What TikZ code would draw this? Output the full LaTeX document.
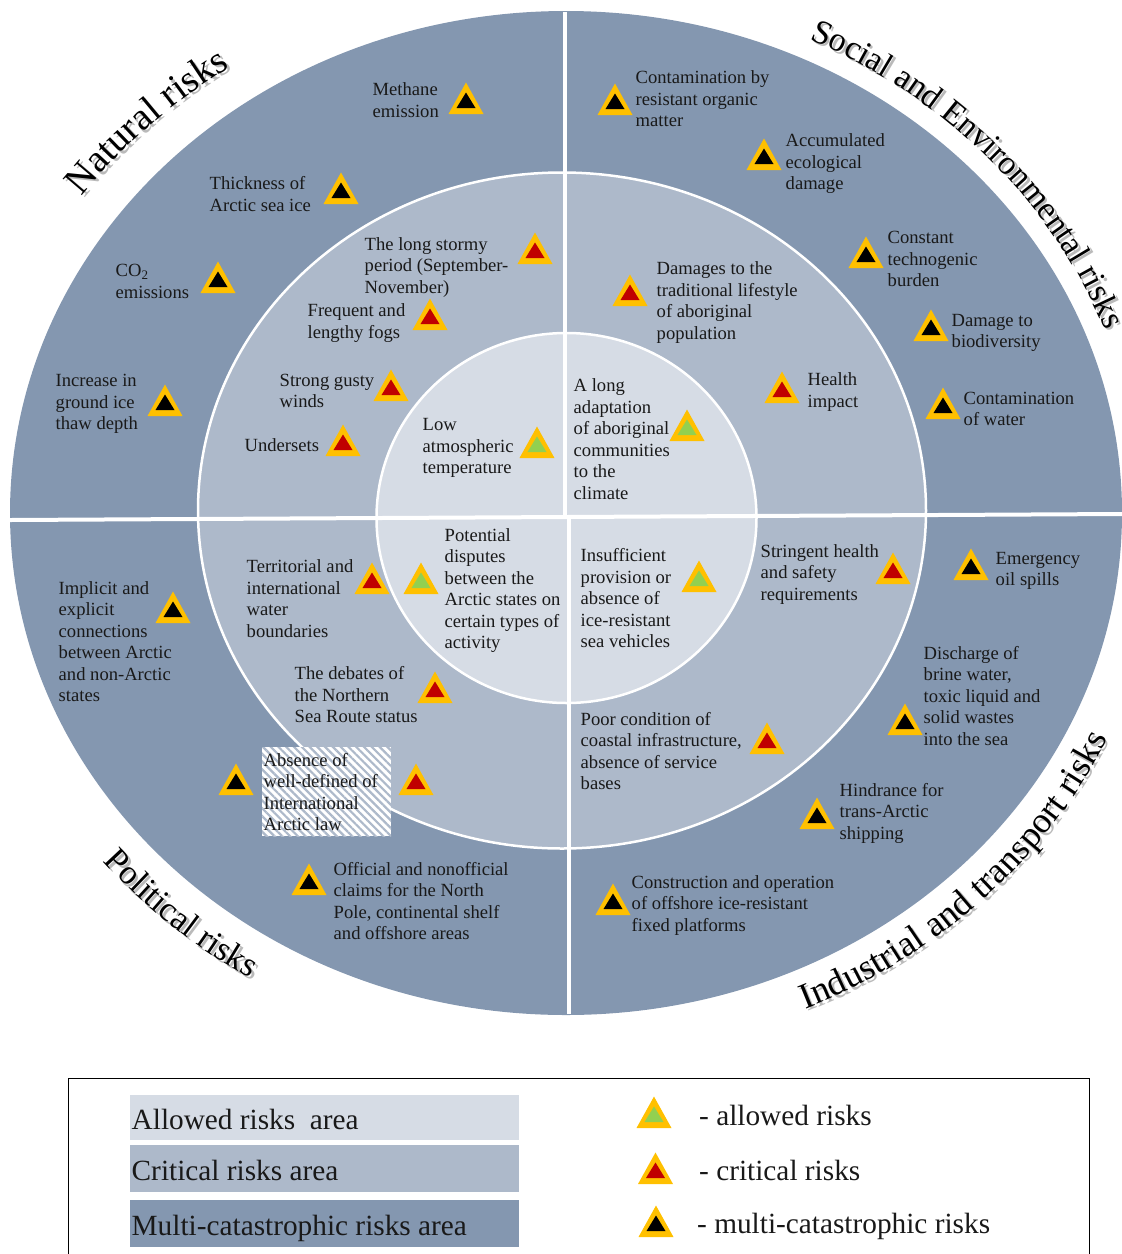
\documentclass[tikz,border=0pt]{standalone}
\usepackage{fontspec}
\setmainfont{Liberation Serif}
\usetikzlibrary{decorations.text,patterns.meta}
\definecolor{outerblue}{HTML}{8497B0}
\definecolor{midblue}{HTML}{ADB9CA}
\definecolor{innerblue}{HTML}{D6DCE5}
\definecolor{riskedge}{HTML}{FFC000}
\definecolor{riskred}{HTML}{C00000}
\definecolor{riskgreen}{HTML}{92D050}
\tikzset{
  zone/.style={draw=white,line width=2.5pt},
  divider/.style={draw=white,line width=4pt},
  risktext/.style={anchor=west,align=left,inner sep=0pt,text=black!90,xshift=-0.5pt,
    font=\fontsize{18.6}{21.5}\selectfont},
  legendtext/.style={anchor=west,inner sep=0pt,text=black!90,
    font=\fontsize{29.3}{32}\selectfont}
}
\newcommand{\riskmark}[3]{%
  \fill[riskedge] (#1-17.5,#2) -- (#1,#2-31.5) -- (#1+17.5,#2) -- cycle;
  \fill[#3] (#1-9.5,#2-6) -- (#1,#2-21.5) -- (#1+9.5,#2-6) -- cycle;}
\newcommand{\curvelabel}[5]{%
  \path[decorate,decoration={text along path,text={|\color{black!27}\fontsize{#5}{#5}\selectfont|#4}}]
    plot[domain=#3,samples=50] ({2.5+566+#1*cos(\x)},{2.5+515-#2*sin(\x)});
  \path[decorate,decoration={text along path,text={|\fontsize{#5}{#5}\selectfont|#4}}]
    plot[domain=#3,samples=50] ({566+#1*cos(\x)},{515-#2*sin(\x)});}
\begin{document}
\begin{tikzpicture}[x=1pt,y=-1pt]
  \useasboundingbox (0,0) rectangle (1122,1254);
  % zones
  \fill[outerblue] (566,513) ellipse [x radius=556pt,y radius=502pt];
  \filldraw[fill=midblue,zone] (562,510.5) ellipse [x radius=364pt,y radius=338pt];
  \filldraw[fill=innerblue,zone] (566.5,518) ellipse [x radius=190pt,y radius=185pt];
  \coordinate (top) at (565,12);
  \coordinate (mid) at (565,518);
  \coordinate (midb) at (569,518);
  \coordinate (bottom) at (569,1014);
  \coordinate (west) at (10,520);
  \coordinate (east) at (1122,514);
  \draw[divider] (top) -- (mid);
  \draw[divider] (midb) -- (bottom);
  \draw[divider] (west) -- (east);
  % curved titles
  \curvelabel{600}{540}{143.8:115}{Natural risks}{38.5}
  \curvelabel{576}{525}{65:12}{Social and Environmental risks}{34}
  \curvelabel{600}{545}{219.5:250}{Political risks}{34.5}
  \curvelabel{595}{540}{-66.3:-15}{Industrial and transport risks}{36.2}
  % striped box
  \fill[white] (262,747) rectangle (391,836);
  \fill[pattern={Lines[angle=-45,distance=5.5pt,line width=2.2pt]},pattern color=midblue] (262,747) rectangle (391,836);
  % natural
  \node[risktext] (methane) at (373,100) {Methane\\emission};
  \node[risktext] (thickness) at (210,194) {Thickness of\\Arctic sea ice};
  \node[risktext] (carbon) at (116,281.5) {CO\textsubscript{2}\\emissions};
  \node[risktext] (thaw) at (56,404) {Increase in\\ground ice\\thaw depth};
  \node[risktext] (stormy) at (365,267.5) {The long stormy\\period (September-\\November)};
  \node[risktext] (fogs) at (308,323) {Frequent and\\lengthy fogs};
  \node[risktext] (winds) at (280,391) {Strong gusty\\winds};
  \node[risktext] (undersets) at (245,445) {Undersets};
  \node[risktext] (lowtemp) at (423,448) {Low\\atmospheric\\temperature};
  % social
  \node[risktext] (organic) at (636,99) {Contamination by\\resistant organic\\matter};
  \node[risktext] (ecodamage) at (786,164) {Accumulated\\ecological\\damage};
  \node[risktext] (burden) at (888,259) {Constant\\technogenic\\burden};
  \node[risktext] (biodiv) at (952,333) {Damage to\\biodiversity};
  \node[risktext] (water) at (964,409) {Contamination\\of water};
  \node[risktext] (lifestyle) at (657,302.5) {Damages to the\\traditional lifestyle\\of aboriginal\\population};
  \node[risktext] (health) at (808,392) {Health\\impact};
  \node[risktext] (adaptation) at (574,439) {A long\\adaptation\\of aboriginal\\communities\\to the\\climate};
  % political
  \node[risktext] (implicit) at (59,641.5) {Implicit and\\explicit\\connections\\between Arctic\\and non-Arctic\\states};
  \node[risktext] (boundaries) at (247,598.5) {Territorial and\\international\\water\\boundaries};
  \node[risktext] (disputes) at (445,590.5) {Potential\\disputes\\between the\\Arctic states on\\certain types of\\activity};
  \node[risktext] (debates) at (295,695) {The debates of\\the Northern\\Sea Route status};
  \node[risktext] (arcticlaw) at (264,792) {Absence of\\well-defined of\\International\\Arctic law};
  \node[risktext] (claims) at (334,901) {Official and nonofficial\\claims for the North\\Pole, continental shelf\\and offshore areas};
  % industrial
  \node[risktext] (vehicles) at (581,598.5) {Insufficient\\provision or\\absence of\\ice-resistant\\sea vehicles};
  \node[risktext] (stringent) at (761,574.5) {Stringent health\\and safety\\requirements};
  \node[risktext] (spills) at (996,571) {Emergency\\oil spills};
  \node[risktext] (brine) at (924,696) {Discharge of\\brine water,\\toxic liquid and\\solid wastes\\into the sea};
  \node[risktext] (coastal) at (581,751) {Poor condition of\\coastal infrastructure,\\absence of service\\bases};
  \node[risktext] (shipping) at (840,813) {Hindrance for\\trans-Arctic\\shipping};
  \node[risktext] (platforms) at (632,905.5) {Construction and operation\\of offshore ice-resistant\\fixed platforms};
  % triangles
  \riskmark{466}{114}{black}
  \riskmark{341}{204}{black}
  \riskmark{218}{293}{black}
  \riskmark{165}{416}{black}
  \riskmark{615}{115}{black}
  \riskmark{764}{170}{black}
  \riskmark{866}{268}{black}
  \riskmark{931}{341}{black}
  \riskmark{943}{419}{black}
  \riskmark{971}{580}{black}
  \riskmark{905}{735}{black}
  \riskmark{817}{829}{black}
  \riskmark{613}{915}{black}
  \riskmark{309}{895}{black}
  \riskmark{173}{623}{black}
  \riskmark{236}{795}{black}
  \riskmark{535}{264}{riskred}
  \riskmark{430}{330}{riskred}
  \riskmark{391}{401}{riskred}
  \riskmark{343}{456}{riskred}
  \riskmark{630}{306}{riskred}
  \riskmark{782}{403}{riskred}
  \riskmark{372}{594}{riskred}
  \riskmark{435}{703}{riskred}
  \riskmark{893}{584}{riskred}
  \riskmark{767}{754}{riskred}
  \riskmark{416}{795}{riskred}
  \riskmark{537}{458}{riskgreen}
  \riskmark{687}{441}{riskgreen}
  \riskmark{421}{594}{riskgreen}
  \riskmark{699}{592}{riskgreen}
  % legend
  \coordinate (boxa) at (68,1254);
  \coordinate (boxb) at (68,1078);
  \coordinate (boxc) at (1089,1078);
  \coordinate (boxd) at (1089,1254);
  \draw[black,line width=1pt] (boxa) -- (boxb) -- (boxc) -- (boxd);
  \fill[innerblue] (130,1095) rectangle (519,1140);
  \fill[midblue] (130,1145) rectangle (519,1192);
  \fill[outerblue] (130,1200) rectangle (519,1247);
  \node[legendtext] (allowedarea) at (131.5,1119) {Allowed risks~ area};
  \node[legendtext] (criticalarea) at (131.5,1170) {Critical risks area};
  \node[legendtext] (multiarea) at (131.5,1228) {Multi-catastrophic risks area};
  \riskmark{654}{1128}{riskgreen}
  \riskmark{655.5}{1184}{riskred}
  \riskmark{656}{1237}{black}
  \node[legendtext] (allowedkey) at (699,1115) {- allowed risks};
  \node[legendtext] (criticalkey) at (699,1170) {- critical risks};
  \node[legendtext] (multikey) at (697,1226) {- multi-catastrophic risks};
\end{tikzpicture}
\end{document}
